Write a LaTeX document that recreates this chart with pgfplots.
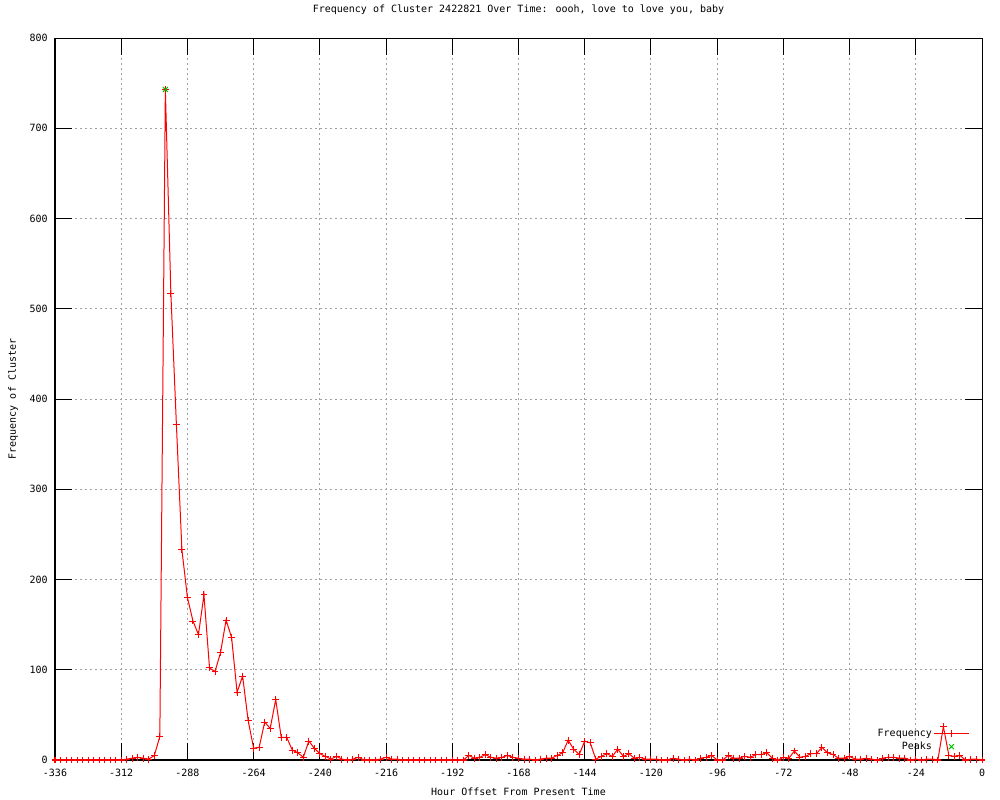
\documentclass[border=0pt]{standalone}
\usepackage{fontspec}
\setmainfont{DejaVu Sans Mono}
\usepackage{pgfplots}
\usepackage{pgfplotstable}
\pgfplotsset{compat=1.18}
\definecolor{gpred}{RGB}{255,0,0}
\definecolor{gpgreen}{RGB}{0,192,0}
\definecolor{gridgray}{RGB}{160,160,160}
\pgfplotstableread{
h v
-336 0
-334 0
-332 0
-330 0
-328 0
-326 0
-324 0
-322 0
-320 0
-318 0
-316 0
-314 0
-312 0
-310 1
-308 2
-306 3
-304 2
-302 1
-300 5
-298 26
-296 743
-294 517
-292 372
-290 233
-288 180
-286 154
-284 139
-282 183
-280 102
-278 98
-276 119
-274 155
-272 136
-270 75
-268 93
-266 44
-264 13
-262 14
-260 42
-258 35
-256 67
-254 25
-252 25
-250 11
-248 8
-246 3
-244 21
-242 13
-240 7
-238 4
-236 1
-234 4
-232 1
-230 0
-228 1
-226 3
-224 0
-222 0
-220 0
-218 1
-216 3
-214 1
-212 1
-210 0
-208 0
-206 0
-204 0
-202 0
-200 0
-198 0
-196 0
-194 0
-192 0
-190 0
-188 0
-186 5
-184 2
-182 3
-180 6
-178 3
-176 2
-174 3
-172 5
-170 3
-168 2
-166 1
-164 1
-162 0
-160 1
-158 2
-156 2
-154 5
-152 8
-150 22
-148 12
-146 6
-144 21
-142 19
-140 1
-138 4
-136 7
-134 4
-132 12
-130 4
-128 7
-126 2
-124 3
-122 1
-120 1
-118 1
-116 0
-114 0
-112 2
-110 1
-108 0
-106 1
-104 0
-102 2
-100 3
-98 5
-96 0
-94 0
-92 5
-90 2
-88 2
-86 4
-84 3
-82 6
-80 6
-78 8
-76 2
-74 0
-72 3
-70 2
-68 10
-66 3
-64 4
-62 7
-60 7
-58 14
-56 8
-54 6
-52 2
-50 2
-48 4
-46 1
-44 1
-42 2
-40 1
-38 0
-36 2
-34 3
-32 3
-30 2
-28 2
-26 0
-24 1
-22 0
-20 1
-18 1
-16 0
-14 37
-12 5
-10 4
-8 5
-6 0
-4 1
-2 1
0 0
}\freqtable
\pgfplotstableread{
h v
-296 743
}\peaktable
\begin{document}
\fontsize{7.5}{9}\selectfont
\begin{tikzpicture}
\useasboundingbox (0,0) rectangle (750pt,600pt);
\begin{axis}[
  at={(41.25pt,30pt)}, anchor=south west,
  scale only axis, width=695.25pt, height=541.5pt,
  xmin=-336, xmax=0, ymin=0, ymax=800,
  xtick={-336,-312,...,0}, ytick={0,100,...,800},
  /pgf/number format/assume math mode=true,
  /pgf/number format/1000 sep={},
  tick label style={font=\fontsize{7.5}{9}\selectfont},
  label style={font=\fontsize{7.5}{9}\selectfont},
  title style={font=\fontsize{7.5}{9}\selectfont, at={(axis description cs:0.5,1.0277)}, anchor=center},
  xticklabel style={inner sep=0pt, yshift=-6.5pt},
  yticklabel style={inner sep=0pt, xshift=-5.25pt},
  xlabel style={at={(axis description cs:0.5,-0.0443)}, anchor=center},
  ylabel style={at={(axis description cs:-0.0453,0.5)}, anchor=center},
  title={Frequency of Cluster 2422821 Over Time: oooh, love to love you, baby},
  xlabel={Hour Offset From Present Time},
  ylabel={Frequency of Cluster},
  axis line style={black, line width=0.75pt},
  tick style={black, line width=0.75pt},
  major tick length=12.75pt, tick align=inside,
  xtick pos=both, ytick pos=both,
  grid=major,
  major grid style={gridgray, line width=0.75pt, dash pattern=on 1.5pt off 2.25pt},
  clip=false,
  legend style={draw=none, fill=none, at={(axis description cs:0.987,0.0097)}, anchor=south east,
    inner sep=0pt, row sep=0.75pt, font=\fontsize{7.5}{9}\selectfont,
    nodes={inner sep=1pt, text height=5.5pt, text depth=1.5pt, text=black}},
  legend plot pos=right, legend cell align=right,
]
\addplot[gpred, line width=0.75pt, mark=+, mark size=2.6pt, mark options={solid},
  legend image code/.code={%
    \draw[draw=red, line width=1.1pt] (0pt,0pt) -- (26.25pt,0pt);
    \draw[draw=red, line width=1.1pt] (10.5pt,0pt) -- (15.75pt,0pt) (13.125pt,-2.6pt) -- (13.125pt,2.6pt);}]
  table[x=h, y=v] {\freqtable};
\addlegendentry{Frequency}
\addplot[gpgreen, only marks, mark=x, mark size=2.6pt, line width=0.75pt,
  legend image code/.code={\draw[gpgreen, line width=0.75pt, only marks, mark=x, mark size=2.6pt] plot coordinates {(13.125pt,0pt)};}]
  table[x=h, y=v] {\peaktable};
\addlegendentry{Peaks}
\end{axis}
\end{tikzpicture}
\end{document}
